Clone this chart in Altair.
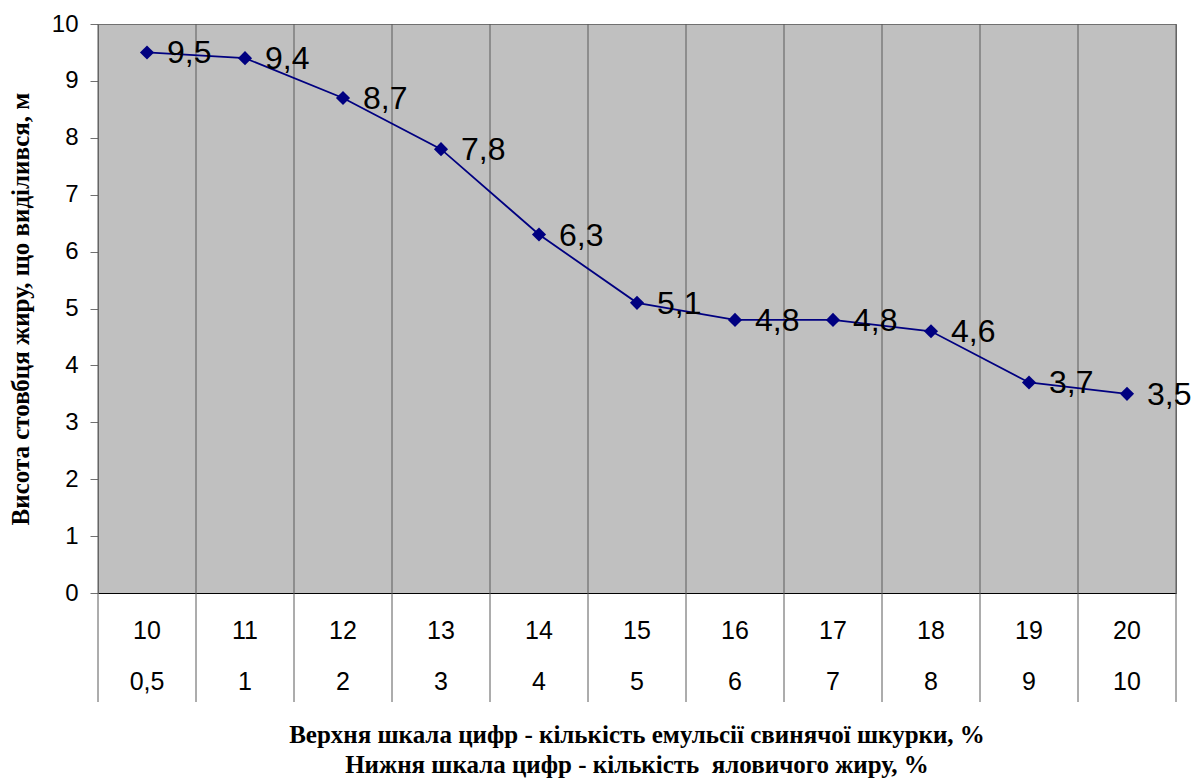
import altair as alt
import pandas as pd

# ---- data ----
top_scale = ["10", "11", "12", "13", "14", "15", "16", "17", "18", "19", "20"]
bottom_scale = ["0,5", "1", "2", "3", "4", "5", "6", "7", "8", "9", "10"]
heights = [9.5, 9.4, 8.7, 7.8, 6.3, 5.1, 4.8, 4.8, 4.6, 3.7, 3.5]
height_labels = ["9,5", "9,4", "8,7", "7,8", "6,3", "5,1", "4,8", "4,8", "4,6", "3,7", "3,5"]
y_ticks = [0, 1, 2, 3, 4, 5, 6, 7, 8, 9, 10]

y_title = "Висота стовбця жиру, що виділився, м"
x_title_1 = "Верхня шкала цифр - кількість емульсії свинячої шкурки, %"
x_title_2 = "Нижня шкала цифр - кількість \u00a0яловичого жиру, %"

W, H = 1078, 569
SANS = "Liberation Sans"
SERIF = "Liberation Serif"
NAVY = "#000080"

df = pd.DataFrame({
    "i": list(range(len(heights))),
    "v": heights,
    "lab": height_labels,
    "top": top_scale,
    "bot": bottom_scale,
})
bounds = pd.DataFrame({"b": [k - 0.5 for k in range(len(heights) + 1)]})

xs = alt.Scale(domain=[-0.5, len(heights) - 0.5], nice=False, zero=False)
ys = alt.Scale(domain=[0, 10], nice=False, zero=True)

x_axis = alt.Axis(labels=False, ticks=False, grid=False, domainColor="black",
                  domainWidth=1, title=None)
y_axis = alt.Axis(values=y_ticks, format="d", grid=False, domainColor="#707070",
                  tickColor="#707070", tickSize=8, labelFontSize=24, labelFont=SANS,
                  labelColor="black", labelPadding=12, title=y_title,
                  titleFont=SERIF, titleFontSize=25, titleFontWeight="bold",
                  titleColor="black", titlePadding=18)

base = alt.Chart(df)

separators = alt.Chart(bounds).mark_rule(color="#5a5a5a", strokeWidth=1).encode(
    x=alt.X("b:Q", scale=xs, axis=x_axis),
    y=alt.value(0),
    y2=alt.value(H + 109),
)

line = base.mark_line(color=NAVY, strokeWidth=1.8).encode(
    x=alt.X("i:Q", scale=xs, axis=x_axis),
    y=alt.Y("v:Q", scale=ys, axis=y_axis),
)

points = base.mark_point(shape="diamond", filled=True, size=200, color=NAVY, opacity=1).encode(
    x=alt.X("i:Q", scale=xs),
    y=alt.Y("v:Q", scale=ys),
)

value_text = base.mark_text(align="left", baseline="middle", dx=20, dy=1,
                            fontSize=32, font=SANS, color="black").encode(
    x=alt.X("i:Q", scale=xs),
    y=alt.Y("v:Q", scale=ys),
    text="lab:N",
)

top_row = base.mark_text(align="center", baseline="middle", fontSize=25,
                         font=SANS, color="black").encode(
    x=alt.X("i:Q", scale=xs),
    y=alt.value(H + 38),
    text="top:N",
)

bottom_row = base.mark_text(align="center", baseline="middle", fontSize=25,
                            font=SANS, color="black").encode(
    x=alt.X("i:Q", scale=xs),
    y=alt.value(H + 89),
    text="bot:N",
)

title1 = alt.Chart(pd.DataFrame({"t": [x_title_1]})).mark_text(
    align="center", baseline="middle", fontSize=25, font=SERIF,
    fontWeight="bold", color="black").encode(
    x=alt.value(W / 2), y=alt.value(H + 142), text="t:N")

title2 = alt.Chart(pd.DataFrame({"t": [x_title_2]})).mark_text(
    align="center", baseline="middle", fontSize=25, font=SERIF,
    fontWeight="bold", color="black").encode(
    x=alt.value(W / 2), y=alt.value(H + 172), text="t:N")

chart = alt.layer(
    separators, line, points, value_text, top_row, bottom_row, title1, title2
).properties(
    width=W, height=H,
    autosize=alt.AutoSizeParams(type="none"),
    padding={"left": 98, "top": 24, "right": 15, "bottom": 186},
    background="white",
).configure_view(
    fill="#C0C0C0", stroke="#707070", strokeWidth=1
)

chart.save("out.html", embed_options={"renderer": "svg", "actions": False})
